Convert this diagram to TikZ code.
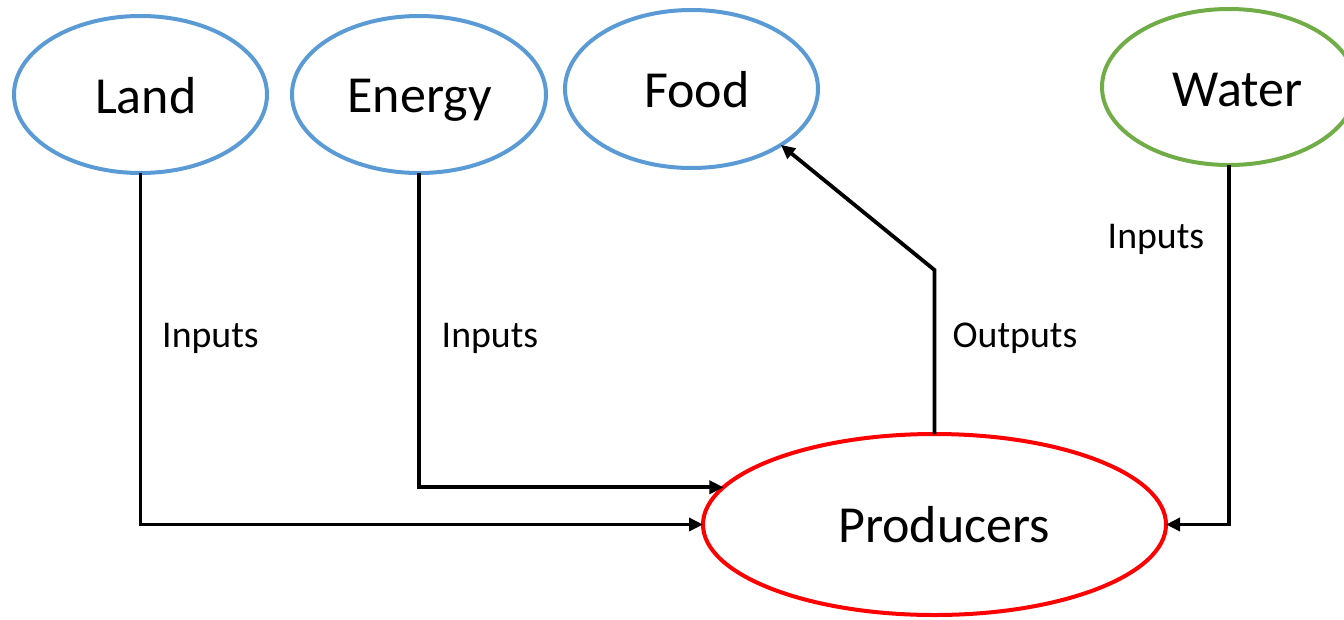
\documentclass[tikz,border=0pt]{standalone}
\usepackage{fontspec}
\setmainfont{Carlito}
\usetikzlibrary{shapes.geometric,arrows.meta}
\definecolor{ellblue}{HTML}{5B9BD5}
\definecolor{ellgreen}{HTML}{70AD47}
\definecolor{ellred}{HTML}{FF0000}
\tikzset{
  oval/.style={ellipse, draw=#1, line width=4pt, inner sep=0pt, outer sep=0pt},
  bigtext/.style={anchor=base, inner sep=0pt, font=\fontsize{52}{60}\selectfont},
  smalltext/.style={anchor=base, inner sep=0pt, font=\fontsize{37.8}{44}\selectfont},
  link/.style={line width=3.8pt, draw=black, -{Triangle[length=14pt,width=13pt]}},
}
\begin{document}
\begin{tikzpicture}[x=1pt,y=-1pt]
\useasboundingbox (0,0) rectangle (1344,619);
% ellipses
\node[oval=ellblue, minimum width=253pt, minimum height=157pt] (land) at (140.5,94.5) {};
\node[oval=ellblue, minimum width=254pt, minimum height=157pt] (energy) at (419,94.5) {};
\node[oval=ellblue, minimum width=253pt, minimum height=158pt] (food) at (691.5,89) {};
\node[oval=ellgreen, minimum width=254pt, minimum height=156pt] (water) at (1229,87) {};
\node[oval=ellred, minimum width=463pt, minimum height=181pt] (prod) at (934.5,524.5) {};
% texts
\node[bigtext] (landtext) at (145.8,113) {Land};
\node[bigtext] (energytext) at (419.5,112) {Energy};
\node[bigtext] (foodtext) at (697,107) {Food};
\node[bigtext] (watertext) at (1237.5,106) {Water};
\node[bigtext] (prodtext) at (944,542) {Producers};
% labels
\node[smalltext] (in1) at (210.5,347) {Inputs};
\node[smalltext] (in2) at (490,347) {Inputs};
\node[smalltext] (out) at (1015,347) {Outputs};
\node[smalltext] (in3) at (1156,248) {Inputs};
% connectors
\coordinate (bend) at (934.5,270);
\draw[link] (land.south) |- (prod.west);
\draw[link] (energy.south) |- (prod.170);
\draw[link] (water.south) |- (prod.east);
\draw[link] (prod.north) -- (bend) -- (food.-32.4);
\end{tikzpicture}
\end{document}
